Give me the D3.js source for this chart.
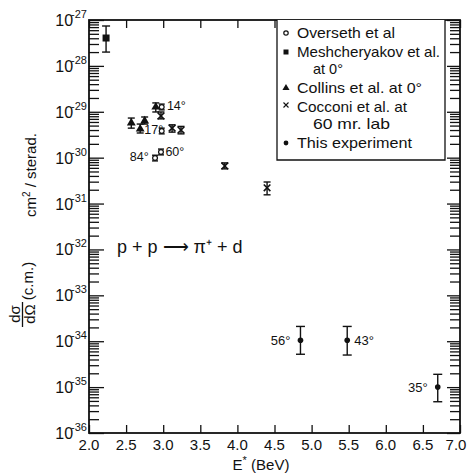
<!DOCTYPE html>
<html>
<head>
<meta charset="utf-8">
<script src="https://cdn.jsdelivr.net/npm/d3@7"></script>
<style>
  body { margin: 0; background: #fff; }
  svg text { font-family: "Liberation Sans", Arial, sans-serif; fill: #111; }
</style>
</head>
<body>
<div id="chart"></div>
<script>
(function () {
  "use strict";

  // Axis ticks
  const xTicks = [2.0, 2.5, 3.0, 3.5, 4.0, 4.5, 5.0, 5.5, 6.0, 6.5, 7.0];
  const xTickLabels = ["2.0", "2.5", "3.0", "3.5", "4.0", "4.5", "5.0", "5.5", "6.0", "6.5", "7.0"];
  const yExponents = [-27, -28, -29, -30, -31, -32, -33, -34, -35, -36];

  // Meshcheryakov et al. at 0°
  const meshE  = [2.23];
  const meshS  = [4.05e-28];
  const meshLo = [2.0e-28];
  const meshHi = [7.4e-28];

  // Collins et al. at 0°
  const collinsE  = [2.57, 2.69, 2.75, 2.90];
  const collinsS  = [5.7e-30, 4.2e-30, 6.3e-30, 1.27e-29];
  const collinsLo = [4.4e-30, 3.45e-30, 5.4e-30, 9.9e-30];
  const collinsHi = [7.3e-30, 5.4e-30, 7.7e-30, 1.56e-29];

  // Overseth et al
  const oversethE  = [2.98, 2.98, 2.89, 2.97];
  const oversethS  = [1.27e-29, 3.8e-30, 9.8e-31, 1.33e-30];
  const oversethLo = [1.1e-29, 3.3e-30, 8.5e-31, 1.15e-30];
  const oversethHi = [1.47e-29, 4.4e-30, 1.13e-30, 1.54e-30];

  // Cocconi et al. at 60 mr. lab
  const cocconiE  = [2.97, 3.12, 3.24, 3.83, 4.40];
  const cocconiS  = [8.1e-30, 4.4e-30, 4.0e-30, 6.6e-31, 2.2e-31];
  const cocconiLo = [7.0e-30, 3.6e-30, 3.3e-30, 5.7e-31, 1.55e-31];
  const cocconiHi = [9.9e-30, 5.2e-30, 4.8e-30, 7.7e-31, 2.95e-31];

  // This experiment
  const thisE  = [4.85, 5.48, 6.70];
  const thisS  = [1.05e-34, 1.05e-34, 1.0e-35];
  const thisLo = [5.2e-35, 5.0e-35, 4.8e-36];
  const thisHi = [2.1e-34, 2.1e-34, 1.9e-35];
  const thisAngles = ["56°", "43°", "35°"];

  // Angle notes next to the older points
  const noteText = ["14°", "17°", "84°", "60°"];
  const noteE    = [3.05, 2.745, 2.55, 3.03];
  const noteS    = [1.4e-29, 4.3e-30, 1.1e-30, 1.4e-30];

  const legendLabels = [
    ["Overseth et al"],
    ["Meshcheryakov et al.", "at 0°"],
    ["Collins et al. at 0°"],
    ["Cocconi et al. at", "60 mr. lab"],
    ["This experiment"]
  ];
  // widths the legend lines take in the original lettering
  const legendWidths = [[98], [143, 30], [125], [110, 77], [115]];

  // Dimensions
  const totalW = 469, totalH = 475;
  const margin = { top: 20, right: 9, bottom: 42, left: 89 };
  const width  = totalW - margin.left - margin.right;
  const height = totalH - margin.top - margin.bottom;

  const x = d3.scaleLinear().domain([2, 7]).range([0, width]);
  const y = d3.scaleLog().domain([1e-36, 1e-27]).range([height, 0]);

  const svg = d3.select("#chart").append("svg")
    .attr("width", totalW).attr("height", totalH);

  const g = svg.append("g")
    .attr("transform", `translate(${margin.left},${margin.top})`);

  const ink = "#111";

  // Minor log ticks
  const minorVals = [];
  yExponents.slice(1).forEach(e => {
    for (let m = 2; m <= 9; m++) minorVals.push(m * Math.pow(10, e));
  });
  const majorVals = yExponents.map(e => Math.pow(10, e));

  // Left axis ticks (inward)
  g.append("g")
    .call(d3.axisRight(y).tickValues(minorVals).tickSize(10).tickFormat(""))
    .call(a => a.select(".domain").remove());
  g.append("g")
    .call(d3.axisRight(y).tickValues(majorVals).tickSize(15).tickFormat(""))
    .call(a => a.select(".domain").remove());
  // Right axis ticks (inward)
  g.append("g").attr("transform", `translate(${width},0)`)
    .call(d3.axisLeft(y).tickValues(minorVals).tickSize(10).tickFormat(""))
    .call(a => a.select(".domain").remove());
  g.append("g").attr("transform", `translate(${width},0)`)
    .call(d3.axisLeft(y).tickValues(majorVals).tickSize(13).tickFormat(""))
    .call(a => a.select(".domain").remove());

  // Bottom and top ticks (inward)
  g.append("g").attr("transform", `translate(0,${height})`)
    .call(d3.axisTop(x).tickValues(xTicks).tickSize(8).tickFormat(""))
    .call(a => a.select(".domain").remove());
  g.append("g")
    .call(d3.axisBottom(x).tickValues(xTicks).tickSize(8).tickFormat(""))
    .call(a => a.select(".domain").remove());

  g.selectAll(".tick line").attr("stroke", ink).attr("stroke-width", 1.3);

  // Frame
  g.append("rect")
    .attr("width", width).attr("height", height)
    .attr("fill", "none").attr("stroke", ink).attr("stroke-width", 1.8);

  // X tick labels
  g.selectAll(".xlab").data(xTicks).join("text")
    .attr("class", "xlab")
    .attr("x", d => Math.min(x(d), width - 4)).attr("y", height + 17)
    .attr("text-anchor", "middle").attr("font-size", 15)
    .text((d, i) => xTickLabels[i]);

  // Y tick labels 10^n
  const ylab = g.selectAll(".ylab").data(yExponents).join("text")
    .attr("class", "ylab")
    .attr("x", -2).attr("y", d => y(Math.pow(10, d)) + 6)
    .attr("text-anchor", "end").attr("font-size", 16);
  ylab.append("tspan").text("10");
  ylab.append("tspan").attr("font-size", 11).attr("dy", -8).attr("dx", -2).text(d => `-${-d}`);

  // Axis titles
  g.append("text")
    .attr("x", 172).attr("y", height + 37)
    .attr("text-anchor", "middle").attr("font-size", 15)
    .html("E<tspan font-size='11' dy='-6'>*</tspan><tspan dy='6'> (BeV)</tspan>");

  const yt = svg.append("g");
  yt.append("text").attr("transform", "translate(20,314) rotate(-90)")
    .attr("text-anchor", "middle").attr("font-size", 15).text("dσ");
  yt.append("line").attr("x1", 22.5).attr("x2", 22.5).attr("y1", 302).attr("y2", 327)
    .attr("stroke", ink).attr("stroke-width", 1.3);
  yt.append("text").attr("transform", "translate(35,314) rotate(-90)")
    .attr("text-anchor", "middle").attr("font-size", 15).text("dΩ");
  yt.append("text").attr("transform", "translate(33,281) rotate(-90)")
    .attr("text-anchor", "middle").attr("font-size", 15).text("(c.m.)");
  yt.append("text").attr("transform", "translate(36,175) rotate(-90)")
    .attr("text-anchor", "middle").attr("font-size", 15)
    .html("cm<tspan font-size='10' dy='-6'>2</tspan><tspan dy='6'> / sterad.</tspan>");

  // Error bars helper
  function errorBars(E, lo, hi, cap) {
    const eg = g.append("g").attr("stroke", ink).attr("stroke-width", 1.4);
    eg.selectAll(".v").data(E).join("line")
      .attr("x1", d => x(d)).attr("x2", d => x(d))
      .attr("y1", (d, i) => y(hi[i])).attr("y2", (d, i) => y(lo[i]));
    [lo, hi].forEach(arr => {
      eg.selectAll(null).data(E).join("line")
        .attr("x1", d => x(d) - cap).attr("x2", d => x(d) + cap)
        .attr("y1", (d, i) => y(arr[i])).attr("y2", (d, i) => y(arr[i]));
    });
  }

  errorBars(meshE, meshLo, meshHi, 4);
  errorBars(collinsE, collinsLo, collinsHi, 3.5);
  errorBars(oversethE, oversethLo, oversethHi, 3);
  errorBars(cocconiE, cocconiLo, cocconiHi, 3.5);
  errorBars(thisE, thisLo, thisHi, 4.5);

  // Symbols
  g.selectAll(".mesh").data(meshE).join("rect")
    .attr("x", d => x(d) - 3.5).attr("y", (d, i) => y(meshS[i]) - 3.5)
    .attr("width", 7).attr("height", 7).attr("fill", ink);

  const tri = d3.symbol().type(d3.symbolTriangle).size(34);
  g.selectAll(".collins").data(collinsE).join("path")
    .attr("d", tri)
    .attr("transform", (d, i) => `translate(${x(d)},${y(collinsS[i])})`)
    .attr("fill", ink);

  g.selectAll(".overseth").data(oversethE).join("circle")
    .attr("cx", d => x(d)).attr("cy", (d, i) => y(oversethS[i]))
    .attr("r", 2.4).attr("fill", "#fff").attr("stroke", ink).attr("stroke-width", 1.2);

  const cross = d3.symbol().type(d3.symbolX).size(30);
  g.selectAll(".cocconi").data(cocconiE).join("path")
    .attr("d", cross)
    .attr("transform", (d, i) => `translate(${x(d)},${y(cocconiS[i])})`)
    .attr("fill", "none").attr("stroke", ink).attr("stroke-width", 1.6);

  g.selectAll(".this").data(thisE).join("circle")
    .attr("cx", d => x(d)).attr("cy", (d, i) => y(thisS[i]))
    .attr("r", 2.8).attr("fill", ink);

  // Angle labels for this experiment
  g.selectAll(".ang").data(thisE).join("text")
    .attr("x", (d, i) => i === 1 ? x(d) + 7 : x(d) - 10)
    .attr("y", (d, i) => y(thisS[i]) + 5)
    .attr("text-anchor", (d, i) => i === 1 ? "start" : "end")
    .attr("font-size", 13)
    .text((d, i) => thisAngles[i]);

  g.selectAll(".note").data(noteE).join("text")
    .attr("x", d => x(d)).attr("y", (d, i) => y(noteS[i]) + 5)
    .attr("font-size", 12.5)
    .text((d, i) => noteText[i]);

  // Reaction
  g.append("text")
    .attr("x", 117 - margin.left).attr("y", 253 - margin.top)
    .attr("font-size", 18)
    .text("p + p ⟶ π⁺ + d");

  // Legend
  const lg = svg.append("g").attr("class", "legend");
  lg.append("path")
    .attr("d", "M277,20 V160 H445 V20")
    .attr("fill", "#fff").attr("stroke", ink).attr("stroke-width", 1.3);

  const rowY = [38, 57, 93, 112, 148];
  legendLabels.forEach((lines, i) => {
    lines.forEach((t, j) => {
      lg.append("text")
        .attr("x", j === 0 ? 297 : 313).attr("y", rowY[i] + j * 17)
        .attr("font-size", 15)
        .attr("textLength", legendWidths[i][j])
        .attr("lengthAdjust", "spacingAndGlyphs")
        .text(t);
    });
  });
  const sx = 286;
  lg.append("circle").attr("cx", sx).attr("cy", rowY[0] - 5).attr("r", 2.2)
    .attr("fill", "none").attr("stroke", ink).attr("stroke-width", 1.2);
  lg.append("rect").attr("x", sx - 2.5).attr("y", rowY[1] - 7.5).attr("width", 5).attr("height", 5).attr("fill", ink);
  lg.append("path").attr("d", d3.symbol().type(d3.symbolTriangle).size(22))
    .attr("transform", `translate(${sx},${rowY[2] - 5})`).attr("fill", ink);
  lg.append("path").attr("d", d3.symbol().type(d3.symbolX).size(18))
    .attr("transform", `translate(${sx},${rowY[3] - 7})`).attr("fill", "none")
    .attr("stroke", ink).attr("stroke-width", 1.1);
  lg.append("circle").attr("cx", sx).attr("cy", rowY[4] - 5).attr("r", 2.4).attr("fill", ink);
})();
</script>
</body>
</html>
